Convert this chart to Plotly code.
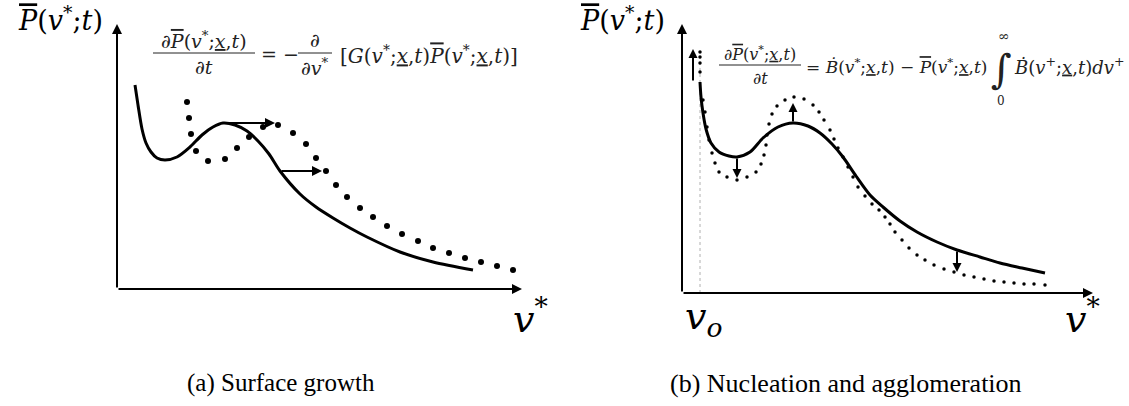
import plotly.graph_objects as go

W, H = 1129, 406

# ---------------- data (schematic units, origin at each axes corner) -------------
# Panel (a): surface growth
a_solid_x = [18, 21, 25, 29, 34, 40, 48, 60, 73, 85, 96, 106, 118, 130, 141, 152, 163, 183, 199, 216, 233, 250, 283, 316, 356]
a_solid_y = [204, 184, 160, 146, 137, 131, 129, 132, 142, 154, 162, 166, 164, 158, 148, 135, 118, 95, 82, 71, 61, 52, 37, 27, 19]
a_dot_x = [70, 72, 74, 79, 91, 108, 120, 132, 146, 161, 176, 189, 199, 209, 219, 230, 243, 256, 270, 285, 301, 316, 332, 348, 364, 380, 396]
a_dot_y = [187, 171, 155, 138, 128, 130, 141, 152, 162, 164, 156, 145, 131, 118, 104, 92, 81, 72, 63, 55, 48, 41, 36, 31, 27, 23, 19]
a_arrow_tail_x = [106, 163]
a_arrow_tail_y = [166, 118]
a_arrow_head_x = [158, 205]
a_arrow_head_y = [166, 118]
a_axis_x_end = 405
a_axis_y_end = 265

# Panel (b): nucleation and agglomeration
b_solid_x = [18, 19, 21, 24, 29, 37, 47, 55, 68, 81, 96, 111, 126, 138, 150, 161, 174, 188, 201, 218, 235, 255, 275, 298, 318, 340, 363]
b_solid_y = [211, 196, 180, 164, 150, 141, 137, 136, 141, 155, 166, 170, 167, 160, 149, 136, 117, 98, 86, 72, 61, 51, 43, 36, 30, 25, 20]
b_dot_x = [18, 18, 18, 18, 21, 23, 25, 27, 30, 33, 37, 45, 55, 65, 74, 79, 82, 84, 85, 87, 90, 95, 103, 112, 122, 131, 137, 142,
           148, 152, 156, 161, 166, 171, 176, 183, 190, 197, 203, 208, 213, 220, 227, 235, 243, 252, 262, 272, 282, 292, 302,
           312, 322, 332, 342, 352, 363]
b_dot_y = [241, 236, 230, 221, 193, 181, 166, 153, 140, 130, 121, 116, 113, 116, 121, 129, 138, 148, 158, 169, 179, 187, 193,
           196, 194, 188, 181, 173, 163, 154, 145, 136, 126, 116, 106, 97, 89, 83, 76, 69, 61, 53, 45, 38, 33, 28, 24, 21, 18,
           16, 14, 12, 11, 10, 9, 9, 8]
b_arrow_tail_x = [11, 55, 111, 275]
b_arrow_tail_y = [211, 136, 170, 43]
b_arrow_head_x = [11, 55, 111, 275]
b_arrow_head_y = [244, 115, 190, 21]
b_vo_x = 18
b_vo_top = 241
b_axis_x_end = 411
b_axis_y_end = 269

# ---------------- figure ----------------
fig = go.Figure()
LINE = dict(color="black", width=3, shape="spline", smoothing=0.8)

fig.add_trace(go.Scatter(x=a_solid_x, y=a_solid_y, mode="lines", line=LINE, xaxis="x", yaxis="y", hoverinfo="skip"))
fig.add_trace(go.Scatter(x=a_dot_x, y=a_dot_y, mode="markers", marker=dict(color="black", size=6),
                         xaxis="x", yaxis="y", hoverinfo="skip"))

fig.add_trace(go.Scatter(x=[b_vo_x, b_vo_x], y=[0, b_vo_top], mode="lines", line=dict(color="#b0b0b0", width=1, dash="dot"),
                         xaxis="x2", yaxis="y2", hoverinfo="skip"))
fig.add_trace(go.Scatter(x=b_solid_x, y=b_solid_y, mode="lines", line=LINE, xaxis="x2", yaxis="y2", hoverinfo="skip"))
fig.add_trace(go.Scatter(x=b_dot_x, y=b_dot_y, mode="markers", marker=dict(color="black", size=3.5),
                         xaxis="x2", yaxis="y2", hoverinfo="skip"))

ann = []


def arrow(xh, yh, xt, yt, xr, yr, width=2, size=1.0, head=2):
    ann.append(dict(x=xh, y=yh, ax=xt, ay=yt, xref=xr, yref=yr, axref=xr, ayref=yr, text="", showarrow=True,
                    arrowhead=head, arrowsize=size, arrowwidth=width, arrowcolor="black", standoff=0, startstandoff=0))


# axes arrows
arrow(0, a_axis_y_end, 0, 0, "x", "y")
arrow(a_axis_x_end, 0, 0, 0, "x", "y")
arrow(0, b_axis_y_end, 0, 0, "x2", "y2")
arrow(b_axis_x_end, 0, 0, 0, "x2", "y2")
for i in range(len(a_arrow_tail_x)):
    arrow(a_arrow_head_x[i], a_arrow_head_y[i], a_arrow_tail_x[i], a_arrow_tail_y[i], "x", "y")
for i in range(len(b_arrow_tail_x)):
    arrow(b_arrow_head_x[i], b_arrow_head_y[i], b_arrow_tail_x[i], b_arrow_tail_y[i], "x2", "y2", size=0.9)


def px(x):
    return x / W


def py(y):
    return 1 - y / H


MATH = "DejaVu Serif"
CAP = "Liberation Serif"
PB = '<i><span style="text-decoration:overline">P</span></i>'
XU = '<u><i>x</i></u>'
VS = '<i>v</i><sup>*</sup>'


def txt(x, y, s, size, xanchor="center", color="black", font=MATH):
    ann.append(dict(x=px(x), y=py(y), xref="paper", yref="paper", text=s, showarrow=False, xanchor=xanchor,
                    yanchor="middle", font=dict(family=font, size=size, color=color)))


shapes = []


def hline(x0, x1, y, color="#222", w=1):
    shapes.append(dict(type="line", xref="paper", yref="paper", x0=px(x0), x1=px(x1), y0=py(y), y1=py(y),
                       line=dict(color=color, width=w)))


# labels
ylab = PB + '(' + VS + ';<i>t</i>)'
txt(60, 18, ylab, 27)
txt(622, 18, ylab, 27)
txt(530, 316, '<i>v</i><sup>*</sup>', 38)
txt(1082, 316, '<i>v</i><sup>*</sup>', 38)
txt(703, 318, '<i>v</i><sub><i>o</i></sub>', 38)
txt(281, 383, '(a) Surface growth', 25, font=CAP)
txt(846, 383, '(b) Nucleation and agglomeration', 26, font=CAP)

# equation (a)
EC = "#222"
FA = 19
num = '\u2202' + PB + '(' + VS + ';' + XU + ',<i>t</i>)'
txt(204, 40, num, FA, color=EC)
hline(153, 255, 53, EC)
txt(204, 67, '\u2202<i>t</i>', FA, color=EC)
txt(259, 54, '= \u2212', FA, xanchor="left", color=EC)
txt(315, 40, '\u2202', FA, color=EC)
hline(298, 332, 53, EC)
txt(315, 67, '\u2202' + VS, FA, color=EC)
txt(338, 55, '[<i>G</i>(' + VS + ';' + XU + ',<i>t</i>)' + PB + '(' + VS + ';' + XU + ',<i>t</i>)]', FA + 1,
    xanchor="left", color=EC)

# equation (b)
FB = 16
txt(760, 54, num, FB, color=EC)
hline(719, 801, 65, EC)
txt(760, 78, '\u2202<i>t</i>', FB, color=EC)
txt(804, 66, '= <i>\u1E02</i>(' + VS + ';' + XU + ',<i>t</i>) \u2212 ' + PB + '(' + VS + ';' + XU + ',<i>t</i>)', FB + 1,
    xanchor="left", color=EC)
txt(1001, 69, '\u222B', 40, color=EC)
txt(1004, 36, '\u221E', 14, color=EC)
txt(1001, 101, '0', 12, color=EC)
txt(1012, 66, '<i>\u1E02</i>(<i>v</i><sup>+</sup>;' + XU + ',<i>t</i>)<i>dv</i><sup>+</sup>', FB + 2, xanchor="left", color=EC)

ax_common = dict(visible=False, showgrid=False, zeroline=False, fixedrange=True)
fig.update_layout(
    width=W, height=H, margin=dict(l=0, r=0, t=0, b=0), paper_bgcolor="white", plot_bgcolor="white",
    showlegend=False,
    xaxis=dict(domain=[117 / W, 537 / W], range=[0, 420], anchor="y", **ax_common),
    yaxis=dict(domain=[1 - 289 / H, 1 - 9 / H], range=[0, 280], anchor="x", **ax_common),
    xaxis2=dict(domain=[682 / W, 1102 / W], range=[0, 420], anchor="y2", **ax_common),
    yaxis2=dict(domain=[1 - 293 / H, 1 - 13 / H], range=[0, 280], anchor="x2", **ax_common),
    annotations=ann, shapes=shapes,
)
fig.write_html("out.html")
